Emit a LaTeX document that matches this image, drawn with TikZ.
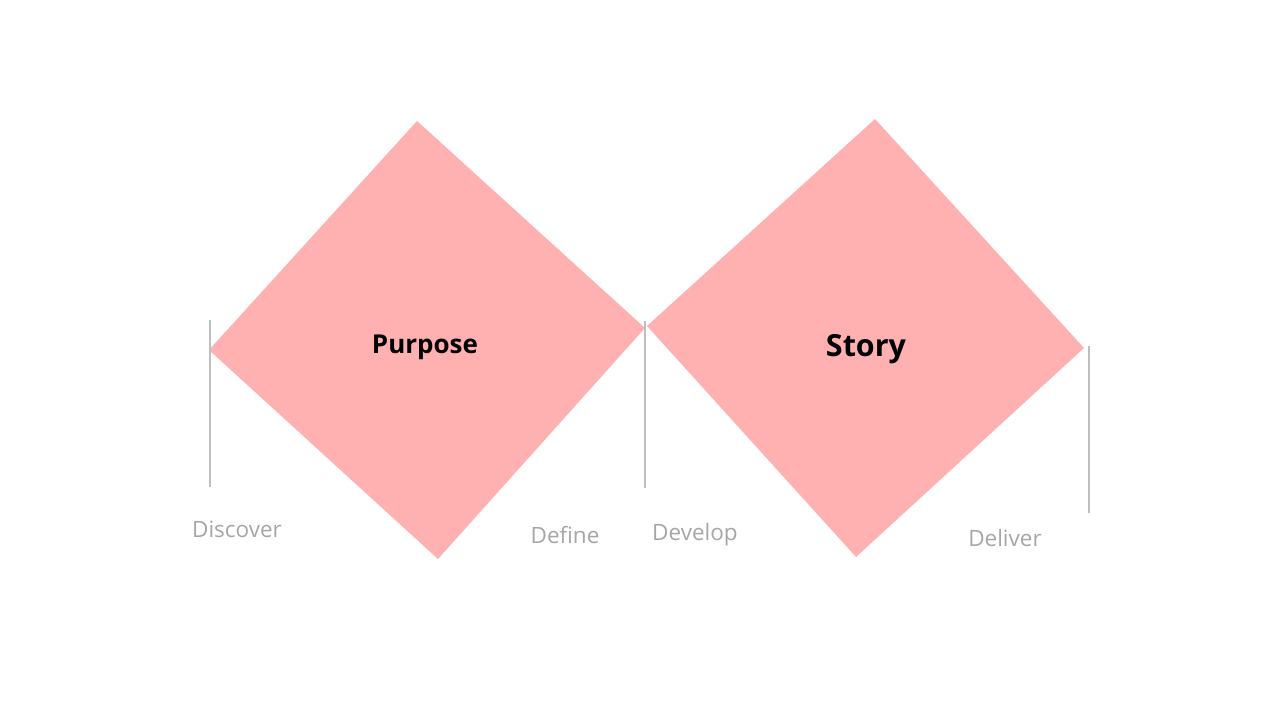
\documentclass[tikz,border=0pt]{standalone}
\usepackage{fontspec}
\setmainfont{Open Sans}
\definecolor{dia}{HTML}{FFB1B1}
\definecolor{vline}{HTML}{BFBFBF}
\definecolor{lbl}{HTML}{A6A6A6}
\begin{document}
\begin{tikzpicture}[x=1pt,y=-1pt,
  diafill/.style={fill=dia},
  phase/.style={draw=vline,line width=1.6pt},
  lab/.style={text=lbl,font=\fontsize{22.5}{26}\selectfont,inner sep=0pt},
  title/.style={text=black,font=\fontsize{#1}{#1}\selectfont\bfseries,inner sep=0pt}]
\useasboundingbox (0,0) rectangle (1280,720);
% left diamond
\coordinate (lt) at (417,121);
\coordinate (lr) at (645,328);
\coordinate (lb) at (438,559);
\coordinate (ll) at (209,350);
% right diamond
\coordinate (rt) at (875,119);
\coordinate (rr) at (1084,348);
\coordinate (rb) at (856,557);
\coordinate (rl) at (647,326);
\fill[diafill] (lt) -- (lr) -- (lb) -- (ll) -- cycle;
\fill[diafill] (rt) -- (rr) -- (rb) -- (rl) -- cycle;
% vertical phase lines
\coordinate (a1) at (210,320); \coordinate (a2) at (210,487);
\coordinate (b1) at (645,321); \coordinate (b2) at (645,488);
\coordinate (c1) at (1089,346); \coordinate (c2) at (1089,513);
\draw[phase] (a1) -- (a2);
\draw[phase] (b1) -- (b2);
\draw[phase] (c1) -- (c2);
% titles
\node[title=26] (purpose) at (425,347) {Purpose};
\node[title=30.5] (story) at (866,349) {Story};
% labels
\node[lab] (discover) at (237,529) {Discover};
\node[lab] (define) at (565,535) {Define};
\node[lab] (develop) at (695,535) {Develop};
\node[lab] (deliver) at (1005,538) {Deliver};
\end{tikzpicture}
\end{document}
